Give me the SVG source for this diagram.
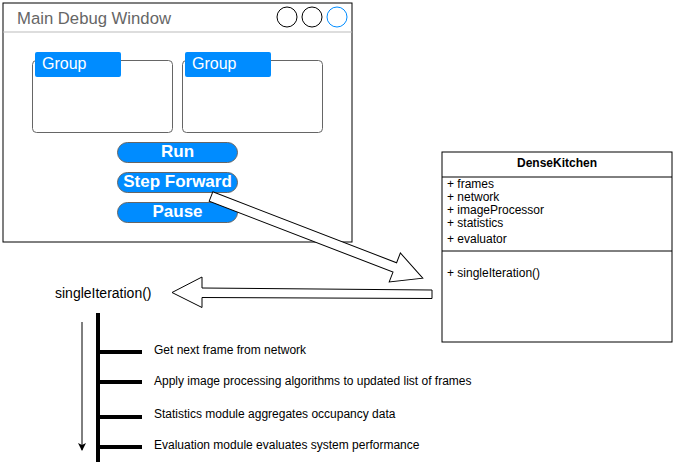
<svg xmlns="http://www.w3.org/2000/svg" width="674" height="465" viewBox="0 0 674 465">
<style>
text{font-family:"Liberation Sans",Arial,Helvetica,sans-serif}
.grp{fill:#fff;stroke:#666;stroke-width:1}
.tab{fill:#008cff;stroke:none}
.tabt{fill:#fff;font-size:16px}
.btn{fill:#008cff;stroke:#666;stroke-width:1}
.btnt{fill:#fff;font-size:17px;font-weight:bold;text-anchor:middle}
.cls{font-size:12px;fill:#000}
.tick{stroke:#000;stroke-width:4}
.step{font-size:12px;fill:#000}
.blk{fill:#fff;stroke:#000;stroke-width:1;stroke-linejoin:miter}
</style>
<defs>
<marker id="ah" markerWidth="8" markerHeight="8" refX="7" refY="4" orient="auto" markerUnits="userSpaceOnUse">
<path d="M0,0 L8,4 L0,8 L2,4 Z" fill="#000"/>
</marker>
</defs>
<rect width="674" height="465" fill="#fff"/>

<g id="mainWindow">
<rect x="3" y="3" width="349" height="239" fill="#fff" stroke="#000" stroke-width="1"/>
<line x1="3" y1="32" x2="352" y2="32" stroke="#bbb" stroke-width="1"/>
<text x="17" y="24" font-size="16.7" fill="#666">Main Debug Window</text>
<circle cx="287" cy="17" r="10" fill="#fff" stroke="#000"/>
<circle cx="312" cy="17" r="10" fill="#fff" stroke="#000"/>
<circle cx="337" cy="17" r="10" fill="#fff" stroke="#008cff"/>
</g>

<g id="group1">
<rect class="grp" x="32.5" y="60.5" width="140" height="72" rx="4"/>
<rect class="tab" x="35" y="52" width="86" height="25" rx="2"/>
<text class="tabt" x="42" y="68.5">Group</text>
</g>
<g id="group2">
<rect class="grp" x="182.5" y="60.5" width="140" height="72" rx="4"/>
<rect class="tab" x="185" y="52" width="86" height="25" rx="2"/>
<text class="tabt" x="192" y="68.5">Group</text>
</g>

<g id="btnRun">
<rect class="btn" x="117.5" y="142.5" width="120" height="20" rx="10"/>
<text class="btnt" x="177.5" y="156.5">Run</text>
</g>
<g id="btnStep">
<rect class="btn" x="117.5" y="172.5" width="120" height="20" rx="10"/>
<text class="btnt" x="177.5" y="186.5">Step Forward</text>
</g>
<g id="btnPause">
<rect class="btn" x="117.5" y="202.5" width="120" height="20" rx="10"/>
<text class="btnt" x="177.5" y="216.5">Pause</text>
</g>

<g id="denseKitchen">
<rect x="442" y="152" width="230" height="190" fill="#fff" stroke="#000" stroke-width="1"/>
<line x1="442" y1="177" x2="672" y2="177" stroke="#000"/>
<text class="cls" x="557" y="167" text-anchor="middle" font-weight="bold">DenseKitchen</text>
<text class="cls" x="447" y="188">+ frames</text>
<text class="cls" x="447" y="201">+ network</text>
<text class="cls" x="447" y="213.5">+ imageProcessor</text>
<text class="cls" x="447" y="226.5">+ statistics</text>
<text class="cls" x="447" y="243">+ evaluator</text>
<line x1="442" y1="251" x2="672" y2="251" stroke="#000"/>
<text class="cls" x="447" y="277">+ singleIteration()</text>
</g>

<g id="singleIterationLabel">
<text x="55" y="297.5" font-size="14" fill="#000">singleIteration()</text>
</g>

<g id="timeline">
<line x1="98" y1="313" x2="98" y2="462" stroke="#000" stroke-width="4"/>
<line class="tick" x1="98" y1="352" x2="142" y2="352"/>
<line class="tick" x1="98" y1="382" x2="142" y2="382"/>
<line class="tick" x1="98" y1="417" x2="142" y2="417"/>
<line class="tick" x1="98" y1="447" x2="142" y2="447"/>
<text class="step" x="154" y="354">Get next frame from network</text>
<text class="step" x="154" y="385">Apply image processing algorithms to updated list of frames</text>
<text class="step" x="154" y="418">Statistics module aggregates occupancy data</text>
<text class="step" x="154" y="449">Evaluation module evaluates system performance</text>
</g>

<g id="connectors">
<line x1="82" y1="322" x2="82" y2="450" stroke="#000" stroke-width="1" marker-end="url(#ah)"/>
<g transform="translate(211,196.5) rotate(21.1)">
<polygon class="blk" points="0,-5 197,-5 197,-15.5 227,0 197,15.5 197,5 0,5"/>
</g>
<polygon class="blk" points="432,290 202,288 202,277 172,292.5 202,307.5 202,297.5 432,298.5"/>
</g>
</svg>
